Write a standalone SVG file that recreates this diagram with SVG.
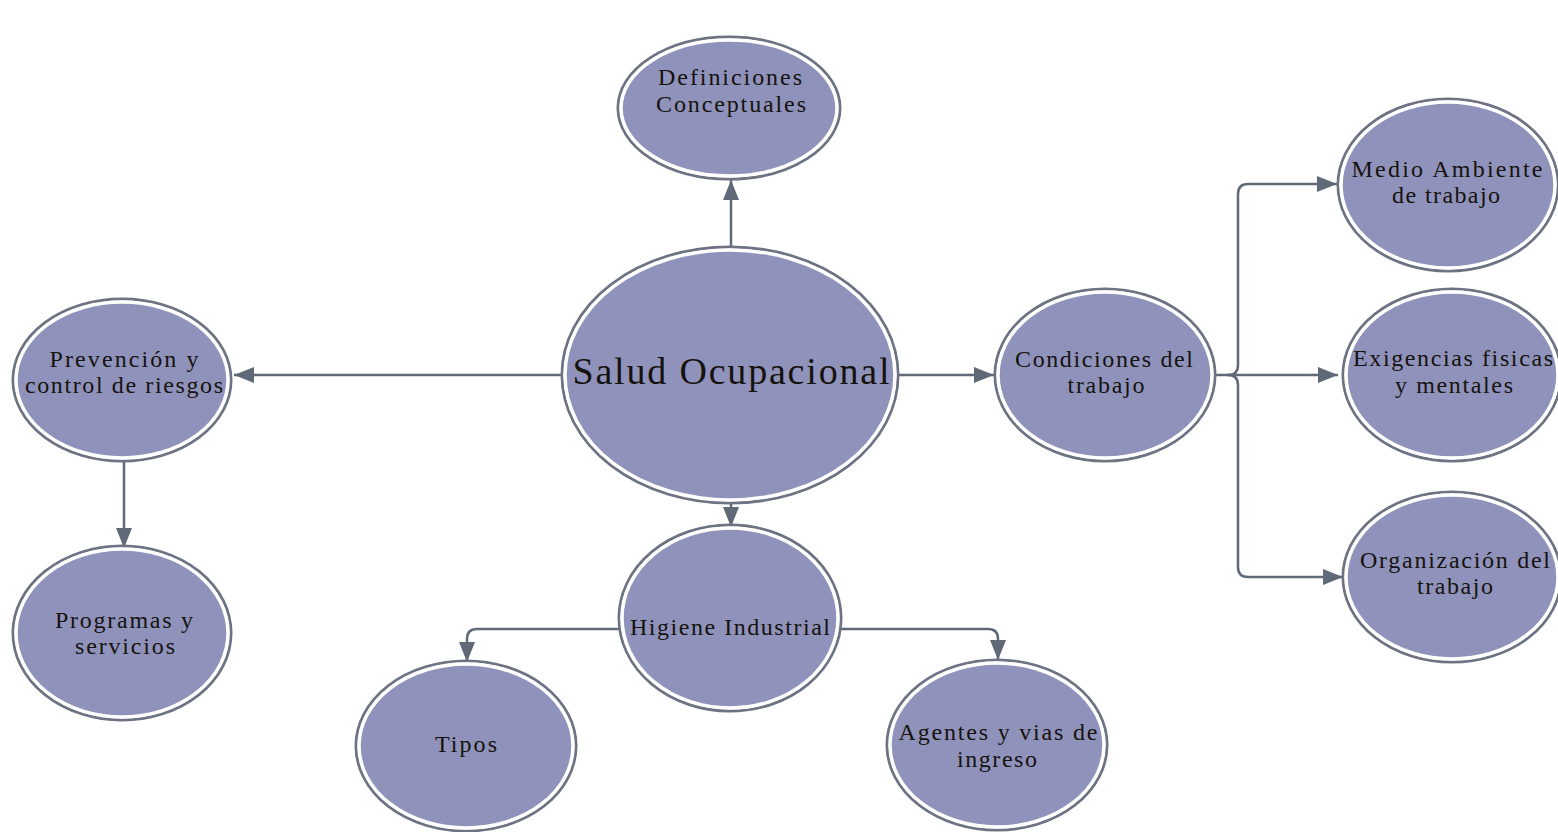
<svg xmlns="http://www.w3.org/2000/svg" width="1558" height="832" viewBox="0 0 1558 832">
  <defs>
    <marker id="arrow" markerUnits="userSpaceOnUse" markerWidth="20" markerHeight="16" refX="20" refY="8" orient="auto">
      <path d="M0,0 L20,8 L0,16 z" fill="#5f6977"/>
    </marker>
    <style>
      .ring { fill: none; stroke: #6e7383; stroke-width: 3; }
      .disc { fill: #8f93bb; stroke: #ffffff; stroke-width: 3.5; }
      .lbl { font-family: "Liberation Serif", "Times New Roman", serif; font-size: 24px; fill: #16120e; text-anchor: middle; }
      .big { font-size: 38px; }
      .wire { fill: none; stroke: #5f6977; stroke-width: 2.5; stroke-linejoin: round; }
    </style>
  </defs>
  <rect width="1558" height="832" fill="#ffffff"/>

  <!-- connectors -->
  <g id="connectors">
    <path class="wire" d="M731,248 V180" marker-end="url(#arrow)"/>
    <path class="wire" d="M563,375 H234" marker-end="url(#arrow)"/>
    <path class="wire" d="M897,375 H994" marker-end="url(#arrow)"/>
    <path class="wire" d="M731,503 V527" marker-end="url(#arrow)"/>
    <path class="wire" d="M124,460 V548" marker-end="url(#arrow)"/>
    <path class="wire" d="M620,629 H477 Q467,629 467,639 V662" marker-end="url(#arrow)"/>
    <path class="wire" d="M840,629 H988 Q998,629 998,639 V660" marker-end="url(#arrow)"/>
    <path class="wire" d="M1214,375 H1338" marker-end="url(#arrow)"/>
    <path class="wire" d="M1228,375 Q1238,375 1238,365 V194 Q1238,184 1248,184 H1337" marker-end="url(#arrow)"/>
    <path class="wire" d="M1228,375 Q1238,375 1238,385 V567 Q1238,577 1248,577 H1343" marker-end="url(#arrow)"/>
  </g>

  <g id="salud-ocupacional">
    <ellipse class="ring" cx="730" cy="375" rx="168" ry="128"/>
    <ellipse class="disc" cx="730" cy="375" rx="165" ry="125"/>
    <text class="lbl big" x="731" y="384" textLength="317" lengthAdjust="spacing">Salud Ocupacional</text>
  </g>

  <g id="definiciones">
    <ellipse class="ring" cx="729" cy="108" rx="111" ry="71"/>
    <ellipse class="disc" cx="729" cy="108" rx="108" ry="68"/>
    <text class="lbl" x="730" y="85" textLength="144" lengthAdjust="spacing">Definiciones</text>
    <text class="lbl" x="731" y="112" textLength="150" lengthAdjust="spacing">Conceptuales</text>
  </g>

  <g id="prevencion">
    <ellipse class="ring" cx="122" cy="380" rx="109" ry="81"/>
    <ellipse class="disc" cx="122" cy="380" rx="106" ry="78"/>
    <text class="lbl" x="124" y="367" textLength="149" lengthAdjust="spacing">Prevención y</text>
    <text class="lbl" x="124" y="393" textLength="198" lengthAdjust="spacing">control de riesgos</text>
  </g>

  <g id="programas">
    <ellipse class="ring" cx="122" cy="633" rx="109" ry="87"/>
    <ellipse class="disc" cx="122" cy="633" rx="106" ry="84"/>
    <text class="lbl" x="124" y="628" textLength="138" lengthAdjust="spacing">Programas y</text>
    <text class="lbl" x="125" y="654" textLength="100" lengthAdjust="spacing">servicios</text>
  </g>

  <g id="higiene">
    <ellipse class="ring" cx="730" cy="618" rx="111" ry="93"/>
    <ellipse class="disc" cx="730" cy="618" rx="108" ry="90"/>
    <text class="lbl" x="730" y="635" textLength="200" lengthAdjust="spacing">Higiene Industrial</text>
  </g>

  <g id="tipos">
    <ellipse class="ring" cx="466" cy="746" rx="110" ry="85"/>
    <ellipse class="disc" cx="466" cy="746" rx="107" ry="82"/>
    <text class="lbl" x="466" y="752" textLength="62" lengthAdjust="spacing">Tipos</text>
  </g>

  <g id="agentes">
    <ellipse class="ring" cx="997" cy="745" rx="110" ry="85"/>
    <ellipse class="disc" cx="997" cy="745" rx="107" ry="82"/>
    <text class="lbl" x="998" y="740" textLength="199" lengthAdjust="spacing">Agentes y vias de</text>
    <text class="lbl" x="997" y="767" textLength="80" lengthAdjust="spacing">ingreso</text>
  </g>

  <g id="condiciones">
    <ellipse class="ring" cx="1105" cy="375" rx="110" ry="86"/>
    <ellipse class="disc" cx="1105" cy="375" rx="107" ry="83"/>
    <text class="lbl" x="1104" y="367" textLength="178" lengthAdjust="spacing">Condiciones del</text>
    <text class="lbl" x="1106" y="393" textLength="77" lengthAdjust="spacing">trabajo</text>
  </g>

  <g id="medio-ambiente">
    <ellipse class="ring" cx="1448" cy="185" rx="110" ry="86"/>
    <ellipse class="disc" cx="1448" cy="185" rx="107" ry="83"/>
    <text class="lbl" x="1447" y="177" textLength="191" lengthAdjust="spacing">Medio Ambiente</text>
    <text class="lbl" x="1446" y="203" textLength="108" lengthAdjust="spacing">de trabajo</text>
  </g>

  <g id="exigencias">
    <ellipse class="ring" cx="1452" cy="375" rx="109" ry="86"/>
    <ellipse class="disc" cx="1452" cy="375" rx="106" ry="83"/>
    <text class="lbl" x="1453" y="366" textLength="200" lengthAdjust="spacing">Exigencias fisicas</text>
    <text class="lbl" x="1454" y="393" textLength="118" lengthAdjust="spacing">y mentales</text>
  </g>

  <g id="organizacion">
    <ellipse class="ring" cx="1452" cy="577" rx="109" ry="85"/>
    <ellipse class="disc" cx="1452" cy="577" rx="106" ry="82"/>
    <text class="lbl" x="1455" y="568" textLength="190" lengthAdjust="spacing">Organización del</text>
    <text class="lbl" x="1455" y="594" textLength="76" lengthAdjust="spacing">trabajo</text>
  </g>
</svg>
